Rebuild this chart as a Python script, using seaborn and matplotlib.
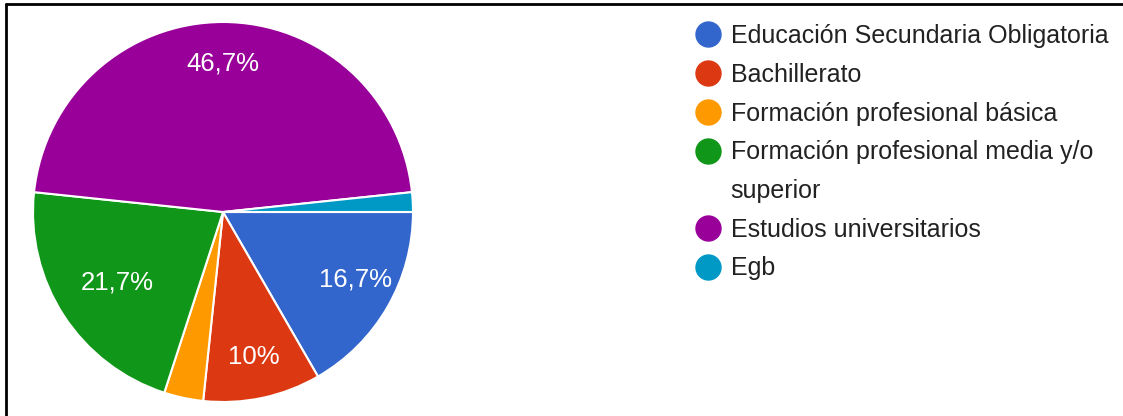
import matplotlib
matplotlib.use("Agg")
import matplotlib.pyplot as plt
from matplotlib.lines import Line2D
import seaborn as sns

categories = [
    "Educación Secundaria Obligatoria",
    "Bachillerato",
    "Formación profesional básica",
    "Formación profesional media y/o superior",
    "Estudios universitarios",
    "Egb",
]
counts = [10, 6, 2, 13, 28, 1]
colors = ["#3366cc", "#dc3912", "#ff9900", "#109618", "#990099", "#0099c6"]

sns.set_theme(style="white")
plt.rcParams["font.family"] = ["Liberation Sans", "DejaVu Sans"]

fig = plt.figure(figsize=(11.23, 4.16), dpi=100)
ax = fig.add_axes([33 / 1123, 14 / 416, 380 / 1123, 380 / 416])


def pct_label(p):
    # small slices carry no label; whole numbers drop the decimal
    if p < 5:
        return ""
    s = f"{p:.1f}".replace(".", ",")
    if s.endswith(",0"):
        s = s[:-2]
    return s + "%"


wedges, texts, autotexts = ax.pie(
    counts,
    colors=colors,
    startangle=0,
    counterclock=False,
    autopct=pct_label,
    pctdistance=0.78,
    radius=1.0,
    wedgeprops=dict(edgecolor="white", linewidth=1.5),
    textprops=dict(color="white", fontsize=18.5),
)
# nudge the wide green slice's label toward its visual centre
x, y = autotexts[3].get_position()
autotexts[3].set_position((x * 0.82 - 0.02, y * 0.82 - 0.025))
# and the blue one slightly up
x, y = autotexts[0].get_position()
autotexts[0].set_position((x + 0.02, y + 0.035))

ax.set_xlim(-1, 1)
ax.set_ylim(-1, 1)
ax.set_aspect("equal")
ax.axis("off")

# legend: wrap the long label onto a second row
legend_labels = [
    "Educación Secundaria Obligatoria",
    "Bachillerato",
    "Formación profesional básica",
    "Formación profesional media y/o",
    "superior",
    "Estudios universitarios",
    "Egb",
]
legend_colors = colors[:4] + [None] + colors[4:]
handles = []
for c in legend_colors:
    if c is None:
        handles.append(Line2D([], [], linestyle="none", marker="o", markersize=18,
                              markerfacecolor="none", markeredgecolor="none"))
    else:
        handles.append(Line2D([], [], linestyle="none", marker="o", markersize=18,
                              markerfacecolor=c, markeredgecolor=c))
fig.legend(
    handles,
    legend_labels,
    loc="upper left",
    bbox_to_anchor=(697 / 1123, 1 - 24 / 416),
    frameon=False,
    fontsize=18,
    labelcolor="#222222",
    handlelength=0.9,
    handletextpad=0.45,
    labelspacing=0.59,
    borderpad=0,
    borderaxespad=0,
)

# thin frame along the top and left edges
fig.add_artist(Line2D([6 / 1123, 1], [1 - 4 / 416, 1 - 4 / 416], color="black", linewidth=2,
                      transform=fig.transFigure))
fig.add_artist(Line2D([6 / 1123, 6 / 1123], [0, 1 - 4 / 416], color="black", linewidth=2,
                      transform=fig.transFigure))

fig.savefig("out.png", dpi=100)
